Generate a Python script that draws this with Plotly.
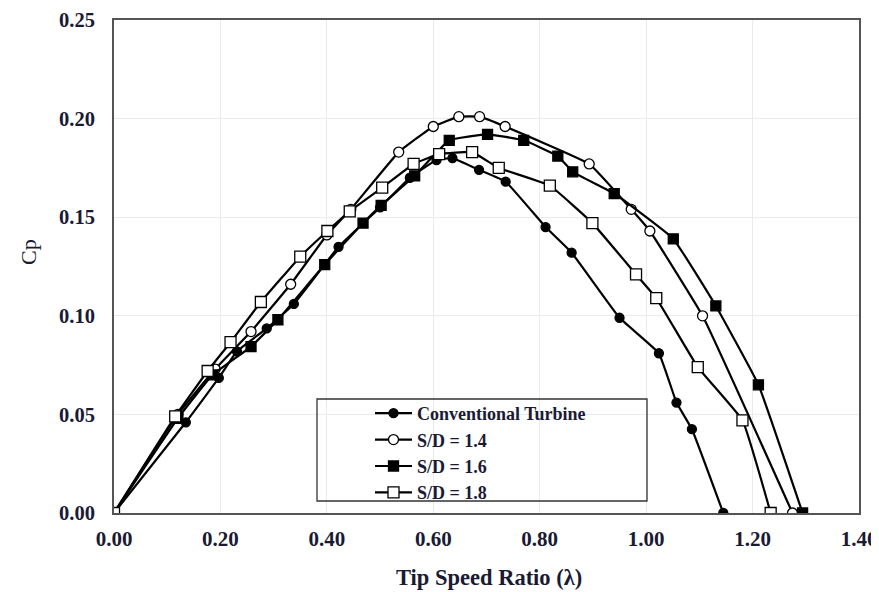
import plotly.graph_objects as go

# Conventional turbine
conv_x = [0.00, 0.135, 0.197, 0.231, 0.287, 0.338, 0.422, 0.50, 0.556, 0.606, 0.636, 0.686, 0.736, 0.811, 0.860, 0.950, 1.024, 1.057, 1.086, 1.145]
conv_y = [0.000, 0.046, 0.0685, 0.082, 0.0936, 0.106, 0.135, 0.155, 0.170, 0.179, 0.180, 0.174, 0.168, 0.145, 0.132, 0.099, 0.081, 0.056, 0.0425, 0.000]

# S/D = 1.4
sd14_x = [0.00, 0.12, 0.19, 0.2575, 0.332, 0.40, 0.445, 0.535, 0.600, 0.648, 0.687, 0.735, 0.893, 0.972, 1.007, 1.106, 1.275]
sd14_y = [0.000, 0.050, 0.073, 0.092, 0.116, 0.141, 0.154, 0.183, 0.196, 0.201, 0.201, 0.196, 0.177, 0.154, 0.143, 0.100, 0.000]

# S/D = 1.6
sd16_x = [0.00, 0.12, 0.185, 0.2575, 0.308, 0.396, 0.468, 0.502, 0.565, 0.630, 0.702, 0.770, 0.834, 0.862, 0.940, 1.051, 1.131, 1.211, 1.294]
sd16_y = [0.000, 0.048, 0.070, 0.0844, 0.098, 0.126, 0.147, 0.156, 0.171, 0.189, 0.192, 0.189, 0.181, 0.173, 0.162, 0.139, 0.105, 0.065, 0.000]

# S/D = 1.8
sd18_x = [0.00, 0.115, 0.176, 0.219, 0.276, 0.350, 0.401, 0.443, 0.504, 0.563, 0.611, 0.673, 0.723, 0.819, 0.899, 0.981, 1.019, 1.097, 1.181, 1.234]
sd18_y = [0.000, 0.049, 0.072, 0.0866, 0.107, 0.130, 0.143, 0.153, 0.165, 0.177, 0.182, 0.183, 0.175, 0.166, 0.147, 0.121, 0.109, 0.074, 0.047, 0.000]

x_ticks = [0.0, 0.2, 0.4, 0.6, 0.8, 1.0, 1.2, 1.4]
y_ticks = [0.0, 0.05, 0.10, 0.15, 0.20, 0.25]

FONT = "Liberation Serif"
TXT = "#1a1a33"
series = [
    ("Conventional Turbine", conv_x, conv_y, "circle", "black", 9),
    ("S/D = 1.4", sd14_x, sd14_y, "circle", "white", 10),
    ("S/D = 1.6", sd16_x, sd16_y, "square", "black", 10),
    ("S/D = 1.8", sd18_x, sd18_y, "square", "white", 11),
]

# page offset of the figure (browser body margin)
OFF = 8
W, H = 879 - OFF, 592 - OFF
# plot area in screen pixels
X0, X1, Y0, Y1 = 114, 859, 20, 513
L, R, T, B = X0 - OFF, 879 - X1, Y0 - OFF, 592 - Y1
PW, PH = X1 - X0, Y1 - Y0

def px(xs):
    return (xs - X0) / PW

def py(ys):
    return (Y1 - ys) / PH

fig = go.Figure()
for name, xs, ys, sym, fill, size in series:
    fig.add_trace(go.Scatter(
        x=xs, y=ys, name=name, mode="lines+markers",
        line=dict(color="black", width=2.2, shape="spline", smoothing=0.3),
        marker=dict(symbol=sym, color=fill, size=size, line=dict(color="black", width=1.3)),
    ))

fig.update_layout(
    width=W, height=H,
    margin=dict(l=L, r=R, t=T, b=B),
    paper_bgcolor="white", plot_bgcolor="white",
    font=dict(family=FONT, color=TXT),
    showlegend=True,
    legend=dict(
        x=px(370), y=py(395), xanchor="left", yanchor="top",
        bgcolor="rgba(255,255,255,0)", borderwidth=0,
        font=dict(family=FONT, size=18, color=TXT, weight="bold"),
        itemwidth=37, tracegroupgap=0,
    ),
    shapes=[dict(type="rect", xref="paper", yref="paper",
                 x0=px(317), x1=px(647), y0=py(501), y1=py(399),
                 line=dict(color="#333", width=1.3), fillcolor="rgba(0,0,0,0)")],
    annotations=[
        dict(text="Cp", xref="paper", yref="paper", x=px(28), y=py(252),
             xanchor="center", yanchor="middle", textangle=-90, showarrow=False,
             font=dict(family=FONT, size=22, color=TXT)),
        dict(text="<b>Tip Speed Ratio (λ)</b>", xref="paper", yref="paper", x=px(489), y=py(577),
             xanchor="center", yanchor="middle", showarrow=False,
             font=dict(family=FONT, size=22.5, color=TXT)),
    ],
)

fig.update_xaxes(
    range=[0, 1.4], tickvals=x_ticks, tickformat=".2f", automargin=False,
    showgrid=True, gridcolor="#ebebeb", gridwidth=1,
    showline=True, linecolor="#555", linewidth=2, mirror=True,
    zeroline=False, ticks="", ticklabelstandoff=6, ticklabeloverflow="allow",
    tickfont=dict(family=FONT, size=21, color=TXT, weight="bold"),
)
fig.update_yaxes(
    range=[0, 0.25], tickvals=y_ticks, tickformat=".2f", automargin=False,
    showgrid=True, gridcolor="#ebebeb", gridwidth=1,
    showline=True, linecolor="#555", linewidth=2, mirror=True,
    zeroline=False, ticks="", ticklabelstandoff=13, ticklabeloverflow="allow",
    tickfont=dict(family=FONT, size=20.5, color=TXT, weight="bold"),
)

fig.write_html("out.html")
